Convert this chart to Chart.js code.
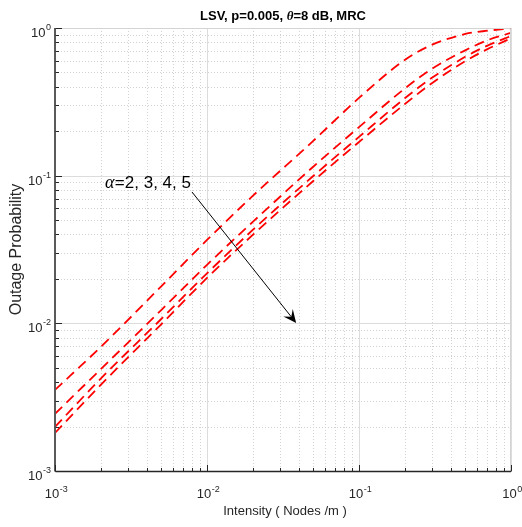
<!DOCTYPE html>
<html>
<head>
<meta charset="utf-8">
<script src="https://cdn.jsdelivr.net/npm/chart.js@4.4.0/dist/chart.umd.min.js"></script>
<style>
  html, body { margin: 0; padding: 0; background: #fff; }
  #wrap { width: 522px; height: 527px; }
</style>
</head>
<body>
<div id="wrap"><canvas id="chart" width="522" height="527"></canvas></div>
<script>
// intensity (nodes/m) and outage probability
const intensity = [0.001, 0.002, 0.005, 0.01, 0.02, 0.05, 0.1, 0.2, 0.3, 0.5, 0.7, 1];
const outageAlpha2 = [0.00354, 0.00692, 0.0178, 0.0367, 0.0729, 0.172, 0.336, 0.607, 0.767, 0.911, 0.959, 0.995];
const outageAlpha3 = [0.00244, 0.00489, 0.0123, 0.0249, 0.0486, 0.115, 0.213, 0.389, 0.527, 0.706, 0.826, 0.927];
const outageAlpha4 = [0.00199, 0.00422, 0.0107, 0.0218, 0.0429, 0.0995, 0.183, 0.334, 0.458, 0.638, 0.760, 0.883];
const outageAlpha5 = [0.00181, 0.00383, 0.00985, 0.0203, 0.0397, 0.092, 0.169, 0.305, 0.421, 0.596, 0.719, 0.851];
const seriesNames = ['\u03b1=2', '\u03b1=3', '\u03b1=4', '\u03b1=5'];

// decade exponents for the tick labels
const xDecades = [-3, -2, -1, 0];
const yDecades = [-3, -2, -1, 0];

const titleText = ['LSV, p=0.005, ', '\u03b8', '=8 dB, MRC'];
const xTitle = 'Intensity ( Nodes /m )';
const yTitle = 'Outage Probability';

// annotation, in data coordinates
const noteText = ['\u03b1', '=2, 3, 4, 5'];
const notePos = { x: 0.00213, y: 0.0826 };
const arrowFrom = { x: 0.00796, y: 0.0776 };
const arrowTo = { x: 0.0386, y: 0.01006 };

const SANS = '"Liberation Sans", Arial, sans-serif';
const NARROW = '"Liberation Sans Narrow", "Liberation Sans", Arial, sans-serif';

function minorValues(decs) {
    const out = [];
    for (let i = 0; i < decs.length - 1; i++) {
        for (let m = 2; m <= 9; m++) out.push(m * Math.pow(10, decs[i]));
    }
    return out;
}

const matlabAxes = {
    id: 'matlabAxes',
    beforeDatasetsDraw(chart) {
        const { ctx, chartArea: a, scales: { x, y } } = chart;
        ctx.save();
        ctx.lineWidth = 1;
        // minor grid, dotted
        ctx.strokeStyle = '#d2d2d2';
        ctx.setLineDash([1, 2]);
        ctx.beginPath();
        for (const v of minorValues(xDecades)) {
            const px = Math.round(x.getPixelForValue(v)) + 0.5;
            ctx.moveTo(px, a.top); ctx.lineTo(px, a.bottom);
        }
        for (const v of minorValues(yDecades)) {
            const py = Math.round(y.getPixelForValue(v)) + 0.5;
            ctx.moveTo(a.left, py); ctx.lineTo(a.right, py);
        }
        ctx.stroke();
        // major grid, solid
        ctx.setLineDash([]);
        ctx.strokeStyle = '#dcdcdc';
        ctx.beginPath();
        for (const e of xDecades) {
            const px = Math.round(x.getPixelForValue(Math.pow(10, e))) + 0.5;
            ctx.moveTo(px, a.top); ctx.lineTo(px, a.bottom);
        }
        for (const e of yDecades) {
            const py = Math.round(y.getPixelForValue(Math.pow(10, e))) + 0.5;
            ctx.moveTo(a.left, py); ctx.lineTo(a.right, py);
        }
        ctx.stroke();
        ctx.restore();
    },
    afterDraw(chart) {
        const { ctx, chartArea: a, scales: { x, y } } = chart;
        ctx.save();
        const L = Math.round(a.left) + 0.5, B = Math.round(a.bottom) + 0.5;

        // box edges
        ctx.lineWidth = 1;
        ctx.strokeStyle = '#d4d4d4';
        ctx.beginPath();
        ctx.moveTo(L, Math.round(a.top) + 0.5); ctx.lineTo(Math.round(a.right) - 0.5, Math.round(a.top) + 0.5);
        ctx.lineTo(Math.round(a.right) - 0.5, B);
        ctx.stroke();

        // axis lines
        ctx.strokeStyle = '#5a5a5a';
        ctx.lineWidth = 2;
        ctx.beginPath(); ctx.moveTo(a.left, a.top); ctx.lineTo(a.left, B); ctx.stroke();
        ctx.strokeStyle = '#262626';
        ctx.lineWidth = 1.5;
        ctx.beginPath(); ctx.moveTo(L, B); ctx.lineTo(a.right, B); ctx.stroke();

        // tick marks pointing inward
        ctx.lineWidth = 1;
        ctx.strokeStyle = '#262626';
        ctx.beginPath();
        for (const v of minorValues(xDecades)) {
            const px = Math.round(x.getPixelForValue(v)) + 0.5;
            ctx.moveTo(px, B); ctx.lineTo(px, B - 3.5);
        }
        for (const e of xDecades) {
            const px = Math.round(x.getPixelForValue(Math.pow(10, e))) + 0.5;
            ctx.moveTo(px, B); ctx.lineTo(px, B - 6.5);
        }
        for (const v of minorValues(yDecades)) {
            const py = Math.round(y.getPixelForValue(v)) + 0.5;
            ctx.moveTo(L, py); ctx.lineTo(L + 3.5, py);
        }
        for (const e of yDecades) {
            const py = Math.round(y.getPixelForValue(Math.pow(10, e))) + 0.5;
            ctx.moveTo(L, py); ctx.lineTo(L + 6.5, py);
        }
        ctx.stroke();

        // tick labels 10^n
        ctx.fillStyle = '#262626';
        ctx.textAlign = 'left';
        ctx.textBaseline = 'alphabetic';
        const baseFont = '13px ' + NARROW;
        const expFont = '9px ' + NARROW;
        const widths = (e) => {
            ctx.font = baseFont; const wb = ctx.measureText('10').width;
            ctx.font = expFont; const we = ctx.measureText(String(e)).width;
            return [wb, we];
        };
        for (const e of xDecades) {
            const px = x.getPixelForValue(Math.pow(10, e));
            const [wb, we] = widths(e);
            const x0 = px - (wb + we) / 2 + 1;
            ctx.font = baseFont; ctx.fillText('10', x0, a.bottom + 27);
            ctx.font = expFont; ctx.fillText(String(e), x0 + wb + 0.5, a.bottom + 21);
        }
        for (const e of yDecades) {
            const py = y.getPixelForValue(Math.pow(10, e));
            const [wb, we] = widths(e);
            const right = a.left - 4;
            ctx.font = baseFont; ctx.fillText('10', right - we - wb - 0.5, py + 9);
            ctx.font = expFont; ctx.fillText(String(e), right - we, py + 2);
        }

        // axis titles
        ctx.font = '13px ' + SANS;
        ctx.textAlign = 'center';
        ctx.fillText(xTitle, (a.left + a.right) / 2 + 2, a.bottom + 44);
        ctx.save();
        ctx.translate(21, (a.top + a.bottom) / 2);
        ctx.rotate(-Math.PI / 2);
        ctx.font = '16px ' + SANS;
        ctx.fillText(yTitle, 0, 0);
        ctx.restore();

        // title with italic theta
        ctx.fillStyle = '#000';
        ctx.textAlign = 'left';
        const fonts = ['bold 13px ' + SANS, 'bold italic 13px "Liberation Serif", serif', 'bold 13px ' + SANS];
        let tw = 0;
        const tws = titleText.map((t, i) => { ctx.font = fonts[i]; const w = ctx.measureText(t).width; tw += w; return w; });
        let tx = (a.left + a.right) / 2 - tw / 2;
        titleText.forEach((t, i) => { ctx.font = fonts[i]; ctx.fillText(t, tx, 20); tx += tws[i]; });

        // annotation text and arrow
        const nx = x.getPixelForValue(notePos.x), ny = y.getPixelForValue(notePos.y);
        ctx.fillStyle = '#000';
        ctx.font = 'italic 18px "Liberation Serif", serif';
        ctx.fillText(noteText[0], nx, ny);
        const aw = ctx.measureText(noteText[0]).width;
        ctx.font = '17px ' + SANS;
        ctx.fillText(noteText[1], nx + aw + 0.5, ny);

        const x1 = x.getPixelForValue(arrowFrom.x), y1 = y.getPixelForValue(arrowFrom.y);
        const x2 = x.getPixelForValue(arrowTo.x), y2 = y.getPixelForValue(arrowTo.y);
        const ang = Math.atan2(y2 - y1, x2 - x1);
        const hl = 13, hw = 6;
        ctx.strokeStyle = '#000';
        ctx.lineWidth = 1;
        ctx.beginPath();
        ctx.moveTo(x1, y1);
        ctx.lineTo(x2 - Math.cos(ang) * hl * 0.6, y2 - Math.sin(ang) * hl * 0.6);
        ctx.stroke();
        ctx.beginPath();
        ctx.moveTo(x2, y2);
        ctx.lineTo(x2 - Math.cos(ang) * hl + Math.sin(ang) * hw, y2 - Math.sin(ang) * hl - Math.cos(ang) * hw);
        ctx.lineTo(x2 - Math.cos(ang) * hl * 0.6, y2 - Math.sin(ang) * hl * 0.6);
        ctx.lineTo(x2 - Math.cos(ang) * hl - Math.sin(ang) * hw, y2 - Math.sin(ang) * hl + Math.cos(ang) * hw);
        ctx.closePath();
        ctx.fill();
        ctx.restore();
    }
};

const allSeries = [outageAlpha2, outageAlpha3, outageAlpha4, outageAlpha5];

new Chart(document.getElementById('chart'), {
    type: 'line',
    data: {
        datasets: allSeries.map((vals, i) => ({
            label: seriesNames[i],
            data: intensity.map((xv, j) => ({ x: xv, y: vals[j] })),
            borderColor: '#ff0000',
            borderWidth: 1.8,
            borderDash: [10, 6],
            pointRadius: 0,
            fill: false,
            cubicInterpolationMode: 'monotone'
        }))
    },
    options: {
        responsive: false,
        animation: false,
        layout: { padding: { left: 55, top: 28, right: 11, bottom: 56 } },
        plugins: { legend: { display: false }, tooltip: { enabled: false } },
        scales: {
            x: { type: 'logarithmic', min: 0.001, max: 1, display: false },
            y: { type: 'logarithmic', min: 0.001, max: 1, display: false }
        }
    },
    plugins: [matlabAxes]
});
</script>
</body>
</html>
